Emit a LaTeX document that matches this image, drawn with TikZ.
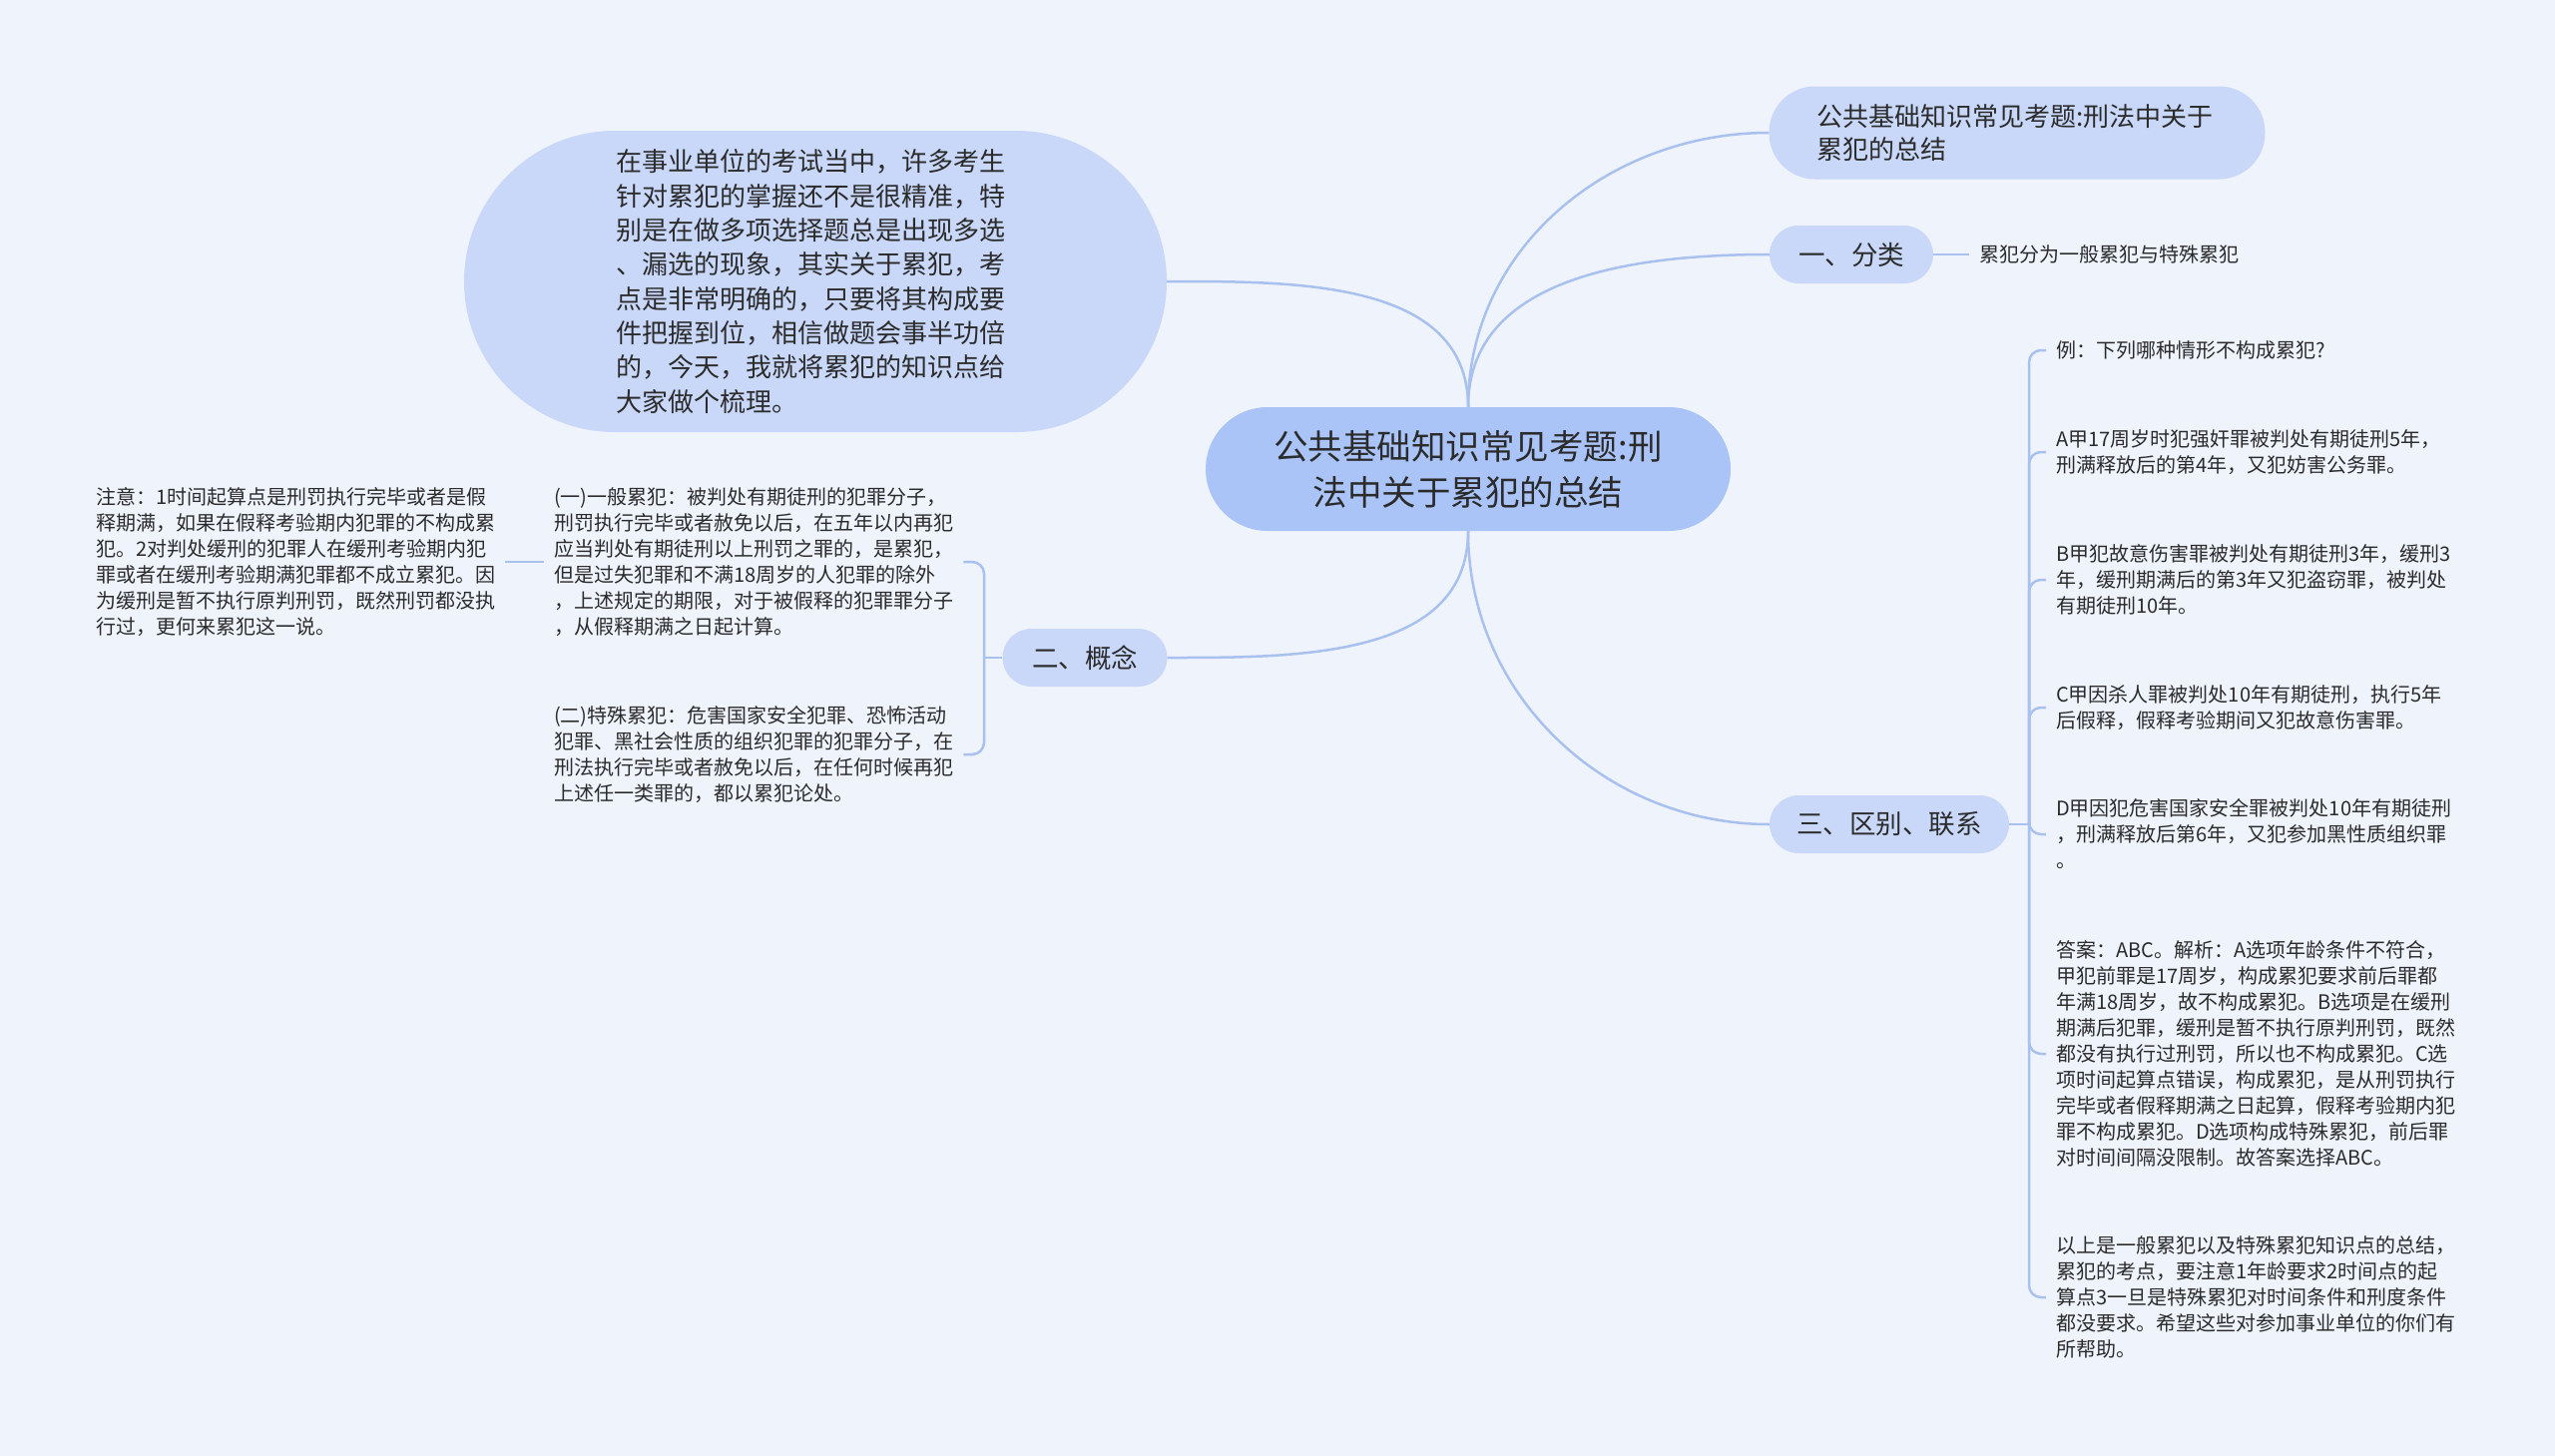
\documentclass[tikz,border=0pt]{standalone}
\usepackage{fontspec}
\setmainfont{Noto Sans CJK SC}
\usepackage{tikz}

\definecolor{bgcol}{HTML}{EFF3FC}
\definecolor{rootcol}{HTML}{AAC4F7}
\definecolor{nodecol}{HTML}{C9D8F9}
\definecolor{linecol}{HTML}{A9C1EE}
\definecolor{txtcol}{HTML}{2B2B2B}

\begin{document}
\begin{tikzpicture}[x=1pt,y=1pt]
  \tikzset{rootbox/.style = {fill=rootcol,rounded corners=62pt,minimum width=526pt,minimum height=124pt,inner sep=0pt,align=center,text=txtcol,font=\fontsize{34.5}{46}\selectfont}}
  \tikzset{branchbox/.style = {fill=nodecol,rounded corners=29pt,minimum height=58pt,inner sep=0pt,text=txtcol,font=\fontsize{26.5}{33}\selectfont}}
  \tikzset{leaf/.style = {anchor=west,align=left,inner sep=10pt,text=txtcol,font=\fontsize{20}{26}\selectfont}}
  \tikzset{link/.style = {draw=linecol,line width=2.5pt}}

  \useasboundingbox (0,0) rectangle (2560,-1459);
  \fill[bgcol] (0,0) rectangle (2560,-1459);

	\node[rootbox] (R) at (1471,-470) {公共基础知识常见考题:刑\\法中关于累犯的总结};
	\node[branchbox,rounded corners=151pt,minimum width=704pt,minimum height=302pt,text width=400pt,align=left,font=\fontsize{26}{34.3}\selectfont] (I) at (817,-282)
	  {在事业单位的考试当中，许多考生\\针对累犯的掌握还不是很精准，特\\别是在做多项选择题总是出现多选\\、漏选的现象，其实关于累犯，考\\点是非常明确的，只要将其构成要\\件把握到位，相信做题会事半功倍\\的，今天，我就将累犯的知识点给\\大家做个梳理。};
	\node[branchbox,rounded corners=46pt,minimum width=497pt,minimum height=93pt,text width=401pt,align=left,font=\fontsize{26}{33}\selectfont] (T) at (2021,-133) {公共基础知识常见考题:刑法中关于\\累犯的总结};
	\node[branchbox,minimum width=164pt] (F) at (1855,-255) {一、分类};
		\node[branchbox,minimum width=165pt] (G) at (1087,-659) {二、概念};
	\node[branchbox,minimum width=240pt] (Q) at (1893,-826) {三、区别、联系};

	\node[leaf] (F1) at (1973,-255) {累犯分为一般累犯与特殊累犯};

	\node[leaf] (G1) at (545,-563) {(一)一般累犯：被判处有期徒刑的犯罪分子，\\刑罚执行完毕或者赦免以后，在五年以内再犯\\应当判处有期徒刑以上刑罚之罪的，是累犯，\\但是过失犯罪和不满18周岁的人犯罪的除外\\，上述规定的期限，对于被假释的犯罪罪分子\\，从假释期满之日起计算。};
	\node[leaf] (G2) at (545,-756) {(二)特殊累犯：危害国家安全犯罪、恐怖活动\\犯罪、黑社会性质的组织犯罪的犯罪分子，在\\刑法执行完毕或者赦免以后，在任何时候再犯\\上述任一类罪的，都以累犯论处。};
	\node[leaf] (N) at (86,-563) {注意：1时间起算点是刑罚执行完毕或者是假\\释期满，如果在假释考验期内犯罪的不构成累\\犯。2对判处缓刑的犯罪人在缓刑考验期内犯\\罪或者在缓刑考验期满犯罪都不成立累犯。因\\为缓刑是暂不执行原判刑罚，既然刑罚都没执\\行过，更何来累犯这一说。};

	\node[leaf] (Q1) at (2050,-351) {例：下列哪种情形不构成累犯?};
	\node[leaf] (Q2) at (2050,-453) {A甲17周岁时犯强奸罪被判处有期徒刑5年，\\刑满释放后的第4年，又犯妨害公务罪。};
	\node[leaf] (Q3) at (2050,-581) {B甲犯故意伤害罪被判处有期徒刑3年，缓刑3\\年，缓刑期满后的第3年又犯盗窃罪，被判处\\有期徒刑10年。};
	\node[leaf] (Q4) at (2050,-709) {C甲因杀人罪被判处10年有期徒刑，执行5年\\后假释，假释考验期间又犯故意伤害罪。};
	\node[leaf] (Q5) at (2050,-836) {D甲因犯危害国家安全罪被判处10年有期徒刑\\，刑满释放后第6年，又犯参加黑性质组织罪\\。};
	\node[leaf] (Q6) at (2050,-1056) {答案：ABC。解析：A选项年龄条件不符合，\\甲犯前罪是17周岁，构成累犯要求前后罪都\\年满18周岁，故不构成累犯。B选项是在缓刑\\期满后犯罪，缓刑是暂不执行原判刑罚，既然\\都没有执行过刑罚，所以也不构成累犯。C选\\项时间起算点错误，构成累犯，是从刑罚执行\\完毕或者假释期满之日起算，假释考验期内犯\\罪不构成累犯。D选项构成特殊累犯，前后罪\\对时间间隔没限制。故答案选择ABC。};
	\node[leaf] (Q7) at (2050,-1300) {以上是一般累犯以及特殊累犯知识点的总结，\\累犯的考点，要注意1年龄要求2时间点的起\\算点3一旦是特殊累犯对时间条件和刑度条件\\都没要求。希望这些对参加事业单位的你们有\\所帮助。};

	\coordinate (J2) at (986,-659);
	\coordinate (J3) at (2033,-826);

       \foreach \from/\to/\o/\i in {R.north/T.west/90/180, R.north/F.west/90/180, R.south/Q.west/-90/180, R.north/I.east/90/0, R.south/G.east/-90/0, F.east/F1.west/0/180, N.east/G1.west/0/180}
    \draw[link] (\from) to[out=\o,in=\i] (\to);

	\draw[link] (G.west) -- (J2);
       \foreach \to in {G1,G2}
    \draw[link,rounded corners=12pt] (J2) |- (\to.east);
	\draw[link] (Q.east) -- (J3);
       \foreach \to in {Q1,Q2,Q3,Q4,Q5,Q6,Q7}
    \draw[link,rounded corners=12pt] (J3) |- (\to.west);
\end{tikzpicture}
\end{document}
